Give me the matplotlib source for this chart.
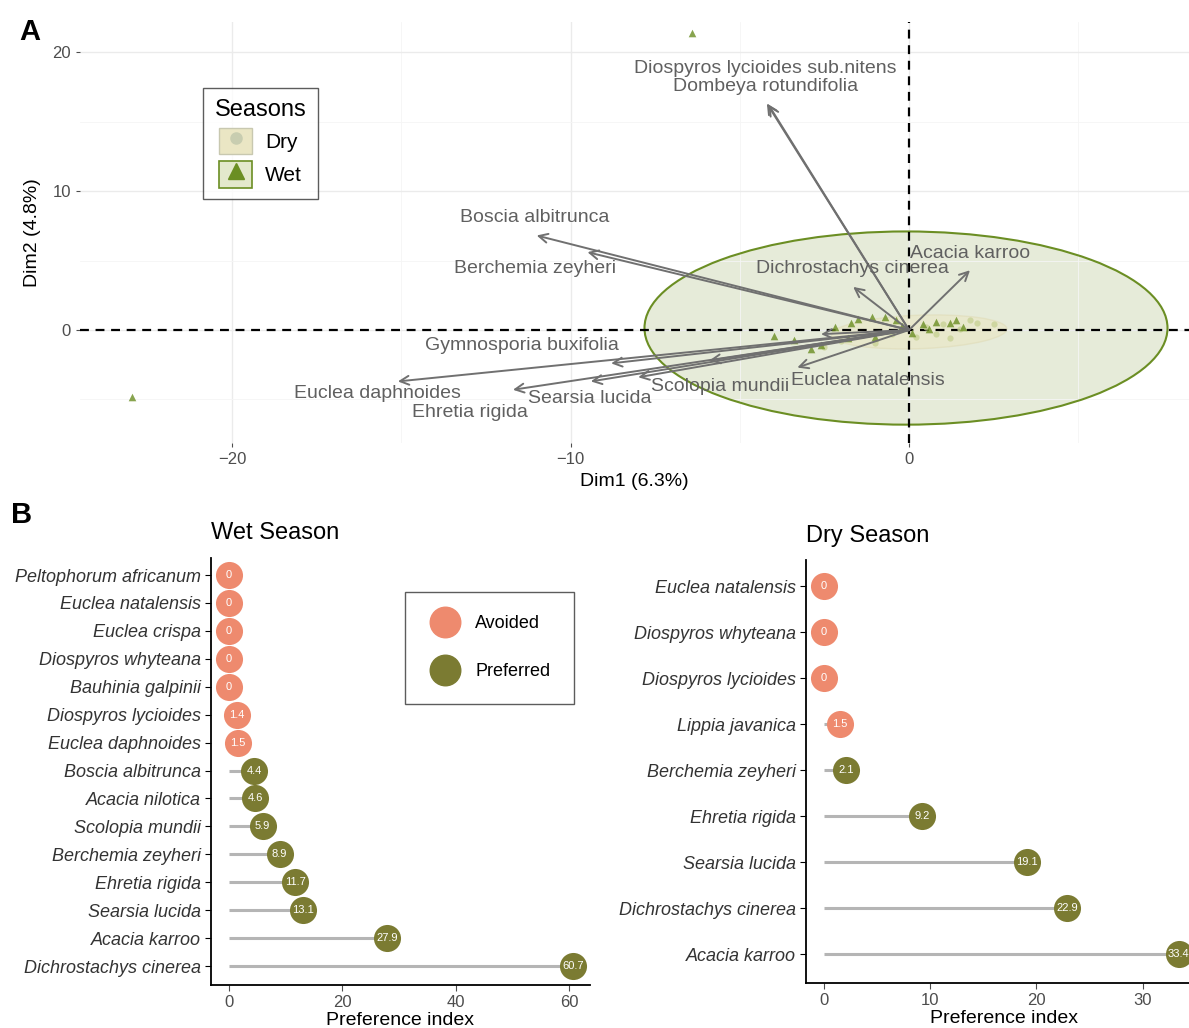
import matplotlib.pyplot as plt
import numpy as np
from matplotlib.patches import Ellipse, Rectangle
from matplotlib.lines import Line2D

plt.rcParams['font.family'] = ['Liberation Sans', 'DejaVu Sans']

# ---- Panel A: PCA biplot data ----
var_names = ['Diospyros lycioides sub.nitens', 'Dombeya rotundifolia', 'Boscia albitrunca',
             'Berchemia zeyheri', 'Dichrostachys cinerea', 'Acacia karroo',
             'Gymnosporia buxifolia', 'Euclea daphnoides', 'Ehretia rigida',
             'Searsia lucida', 'Scolopia mundii', 'Euclea natalensis', '', '']
var_x = [-4.2, -4.15, -11.0, -9.5, -1.65, 1.8, -8.8, -15.1, -11.7, -9.4, -5.9, -3.3, -8.0, -2.6]
var_y = [16.3, 16.2, 6.8, 5.6, 3.1, 4.3, -2.4, -3.7, -4.3, -3.7, -2.2, -2.7, -3.4, -0.3]
lab_x = [-4.25, -4.25, -11.05, -11.05, -1.68, 1.8, -11.43, -15.69, -12.97, -9.42, -5.58, -1.21, 0, 0]
lab_y = [18.78, 17.5, 8.13, 4.46, 4.46, 5.47, -1.15, -4.6, -5.9, -4.9, -4.1, -3.6, 0, 0]

wet_x = [-6.41, -22.95, -4.0, -2.2, -1.7, -1.1, -0.7, -0.4, -0.2, 0.4, 0.8, 1.2, 1.6,
         -3.4, -2.6, -1.8, -1.0, 0.1, 0.6, 1.4, -1.5, -2.9]
wet_y = [21.4, -4.8, -0.45, 0.2, 0.5, 0.9, 0.9, 0.7, 0.3, 0.4, 0.6, 0.5, 0.2,
         -0.7, -1.1, -0.6, -0.5, -0.2, 0.1, 0.7, 0.8, -1.4]
dry_x = [0.5, 1.0, -0.5, 1.5, 2.0, -1.0, 0.2, -2.0, -2.5, 2.5, 0.8, 1.8, -0.2, 1.2]
dry_y = [0.2, 0.4, -0.3, 0.1, 0.5, -0.9, -0.5, -0.8, -1.2, 0.4, -0.3, 0.7, 0.1, -0.6]

# ellipses: centre x, centre y, width, height, angle
wet_ell = (-0.09, 0.14, 15.45, 13.9, 0)
dry_ell = (0.3, -0.14, 5.2, 2.4, 6)

# ---- Panel B data ----
wet_species = ['Peltophorum africanum', 'Euclea natalensis', 'Euclea crispa', 'Diospyros whyteana',
               'Bauhinia galpinii', 'Diospyros lycioides', 'Euclea daphnoides', 'Boscia albitrunca',
               'Acacia nilotica', 'Scolopia mundii', 'Berchemia zeyheri', 'Ehretia rigida',
               'Searsia lucida', 'Acacia karroo', 'Dichrostachys cinerea']
wet_vals = [0, 0, 0, 0, 0, 1.4, 1.5, 4.4, 4.6, 5.9, 8.9, 11.7, 13.1, 27.9, 60.7]
wet_class = ['Avoided'] * 7 + ['Preferred'] * 8

dry_species = ['Euclea natalensis', 'Diospyros whyteana', 'Diospyros lycioides', 'Lippia javanica',
               'Berchemia zeyheri', 'Ehretia rigida', 'Searsia lucida', 'Dichrostachys cinerea',
               'Acacia karroo']
dry_vals = [0, 0, 0, 1.5, 2.1, 9.2, 19.1, 22.9, 33.4]
dry_class = ['Avoided'] * 4 + ['Preferred'] * 5

class_col = {'Avoided': '#ee8a6e', 'Preferred': '#7b7b32'}
WET = '#6b8e23'

W, H = 1189, 1028
fig = plt.figure(figsize=(W / 100, H / 100), dpi=100)

def px_axes(l, t, r, b):
    return fig.add_axes([l / W, 1 - b / H, (r - l) / W, (b - t) / H])

# ================= Panel A =================
ax = px_axes(80, 22, 1189, 443)
ax.set_xlim(-24.49, 8.27)
ax.set_ylim(-8.13, 22.16)
for s in ax.spines.values():
    s.set_visible(False)
ax.set_xticks([-20, -10, 0])
ax.set_yticks([0, 10, 20])
ax.set_xticks([-15, -5, 5], minor=True)
ax.set_yticks([-5, 5, 15], minor=True)
ax.grid(True, which='major', color='#ebebeb', lw=1.0)
ax.grid(True, which='minor', color='#f5f5f5', lw=0.6)
ax.tick_params(which='major', colors='#4d4d4d', labelsize=12, length=3)
ax.tick_params(which='minor', length=0)
ax.set_xlabel('Dim1 (6.3%)', fontsize=14, labelpad=4)
ax.set_ylabel('Dim2 (4.8%)', fontsize=14, labelpad=8)

ax.add_patch(Ellipse(wet_ell[:2], wet_ell[2], wet_ell[3], angle=wet_ell[4],
                     facecolor=WET, alpha=0.17, edgecolor='none', zorder=1))
ax.add_patch(Ellipse(wet_ell[:2], wet_ell[2], wet_ell[3], angle=wet_ell[4],
                     facecolor='none', edgecolor=WET, lw=1.5, zorder=2))
ax.add_patch(Ellipse(dry_ell[:2], dry_ell[2], dry_ell[3], angle=dry_ell[4],
                     facecolor='#eae6c4', alpha=0.6, edgecolor='#e0dcb8', lw=1, zorder=2))

ax.axhline(0, color='black', ls=(0, (4, 3)), lw=1.6, zorder=3)
ax.axvline(0, color='black', ls=(0, (4, 3)), lw=1.6, zorder=3)

ax.scatter(dry_x, dry_y, marker='o', s=20, color='#c8d296', alpha=0.8, zorder=4, lw=0)
ax.scatter(wet_x, wet_y, marker='^', s=30, color=WET, alpha=0.8, zorder=4, lw=0)

for name, vx, vy, lx, ly in zip(var_names, var_x, var_y, lab_x, lab_y):
    ax.annotate('', xy=(vx, vy), xytext=(0, 0),
                arrowprops=dict(arrowstyle='->', color='#707070', lw=1.4,
                                mutation_scale=16, shrinkA=0, shrinkB=0), zorder=5)
    if name:
        ax.text(lx, ly, name, color='#606060', fontsize=14, ha='center', va='center', zorder=6)

h_dry = (Rectangle((0, 0), 1, 1, facecolor='#eae6c4', edgecolor='#c8c8b0', lw=1),
         Line2D([], [], marker='o', ls='', color='#c8cdb0', markersize=8))
h_wet = (Rectangle((0, 0), 1, 1, facecolor='#e3e8cc', edgecolor=WET, lw=1.2),
         Line2D([], [], marker='^', ls='', color=WET, markersize=11))
leg = ax.legend([h_dry, h_wet], ['Dry', 'Wet'], title='Seasons', loc='upper left',
                bbox_to_anchor=(203 / W, 1 - 88 / H), bbox_transform=fig.transFigure,
                borderaxespad=0, fontsize=15, title_fontsize=17, frameon=True, fancybox=False,
                edgecolor='#333333', handlelength=1.6, handleheight=1.6,
                borderpad=0.55, labelspacing=0.3, handletextpad=0.6)
leg.get_frame().set_linewidth(1.0)

fig.text(30 / W, 1 - 32 / H, 'A', fontsize=21, fontweight='bold', ha='center', va='center')
fig.text(22 / W, 1 - 515 / H, 'B', fontsize=21, fontweight='bold', ha='center', va='center')

# ================= Panel B =================
def lollipop(ax, species, vals, classes, ylow, yhigh):
    n = len(species)
    ypos = np.arange(n)[::-1]
    for y, v, c in zip(ypos, vals, classes):
        ax.plot([0, v], [y, y], color='#b5b5b5', lw=2.2, zorder=1, solid_capstyle='butt')
        ax.scatter([v], [y], s=380, color=class_col[c], zorder=2, lw=0)
        ax.text(v, y, f'{v:g}', color='white', fontsize=8, ha='center', va='center', zorder=3)
    ax.set_yticks(ypos)
    ax.set_yticklabels(species, fontstyle='italic', fontsize=13)
    ax.set_ylim(-ylow, n - 1 + yhigh)
    for s in ['top', 'right']:
        ax.spines[s].set_visible(False)
    for s in ['left', 'bottom']:
        ax.spines[s].set_linewidth(1.3)
    ax.tick_params(axis='x', colors='#4d4d4d', labelsize=12, length=4)
    ax.tick_params(axis='y', labelcolor='#333333', length=4)
    ax.set_xlabel('Preference index', fontsize=14, labelpad=1)

axw = px_axes(211, 558, 590, 985)
lollipop(axw, wet_species, wet_vals, wet_class, 0.68, 0.61)
axw.set_xlim(-3.2, 63.7)
axw.set_xticks([0, 20, 40, 60])
axw.set_title('Wet Season', loc='left', fontsize=17, pad=14)

axd = px_axes(806, 560, 1201, 983)
lollipop(axd, dry_species, dry_vals, dry_class, 0.63, 0.57)
axd.set_xlim(-1.7, 35.5)
axd.set_xticks([0, 10, 20, 30])
axd.set_title('Dry Season', loc='left', fontsize=17, pad=13)

hb = [Line2D([], [], marker='o', ls='', color=class_col[k], markersize=22) for k in ['Avoided', 'Preferred']]
legb = axw.legend(hb, ['Avoided', 'Preferred'], loc='upper left',
                  bbox_to_anchor=(405 / W, 1 - 592 / H), bbox_transform=fig.transFigure,
                  borderaxespad=0, fontsize=13, frameon=True, fancybox=False, edgecolor='#333333',
                  borderpad=1.3, labelspacing=1.7, handletextpad=0.8, handlelength=1.8)
legb.get_frame().set_linewidth(1.0)

fig.savefig('out.png', dpi=100)
